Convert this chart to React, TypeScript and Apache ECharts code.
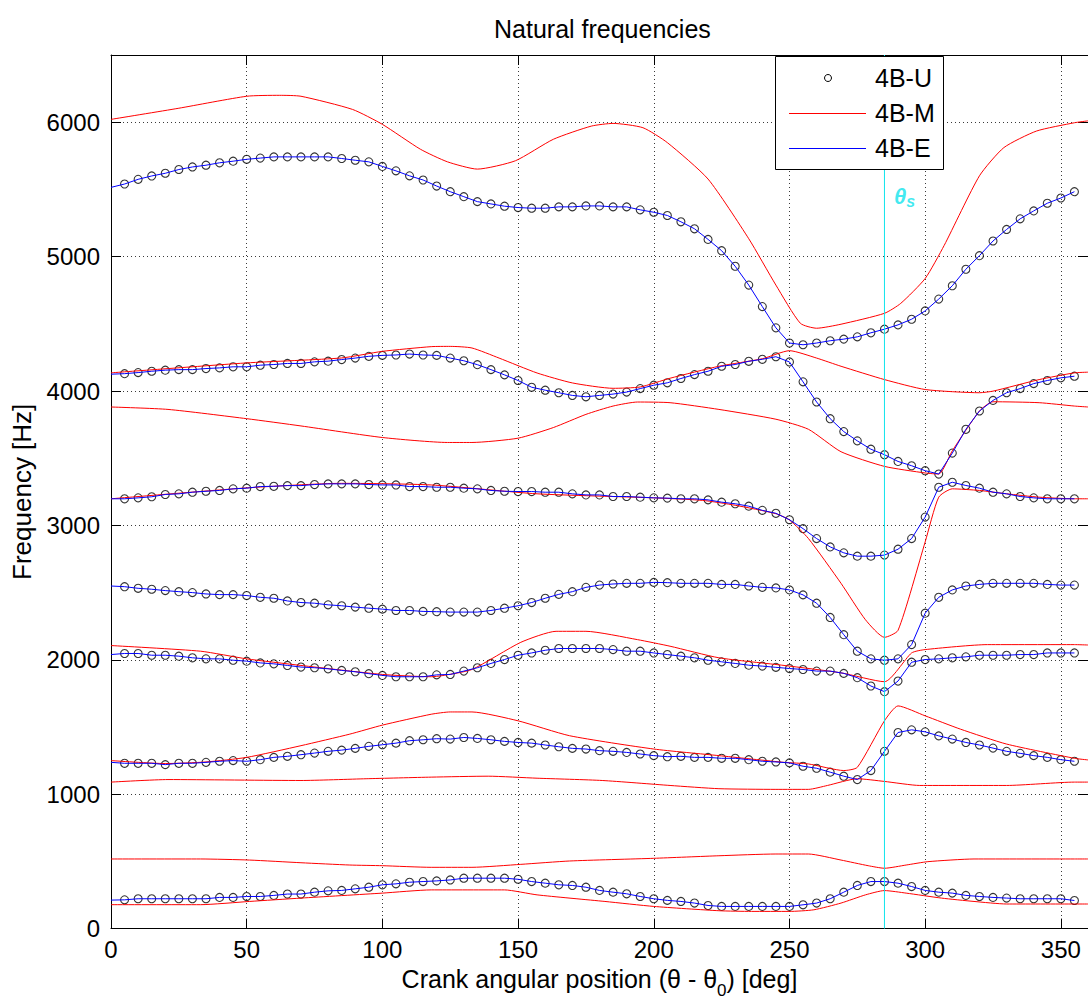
import React, { useEffect, useRef } from "react";
import * as echarts from "echarts";

const FONT = '"Liberation Sans", Arial, Helvetica, sans-serif';
const CYAN = "#10e4ec";
const RED = "#ff0000";
const BLUE = "#0000ff";

const chartTitle = "Natural frequencies";
const xName = "{n|Crank angular position (θ - θ}{s|0}{n|) [deg]}";
const yName = "Frequency [Hz]";
const legendNames = ["4B-U", "4B-M", "4B-E"];
const thetaS = 285;
const thetaSLabelY = 5450;
const yRange = [0, 6500];

// crank angle samples (deg) of the 4B-E / 4B-U computations
const angles = [
  0, 5, 10, 15, 20, 25, 30, 35, 40, 45, 50, 55, 60, 65, 70, 75, 80, 85, 90, 95,
  100, 105, 110, 115, 120, 125, 130, 135, 140, 145, 150, 155, 160, 165, 170, 175,
  180, 185, 190, 195, 200, 205, 210, 215, 220, 225, 230, 235, 240, 245, 250, 255,
  260, 265, 270, 275, 280, 285, 290, 295, 300, 305, 310, 315, 320, 325, 330, 335,
  340, 345, 350, 355,
];

// 4B-E (and 4B-U) natural frequencies, Hz
const mode1E = [
  212, 214, 222, 222, 222, 222, 222, 222, 232, 232, 239, 239, 247, 257, 257, 271, 281, 284, 296, 308,
  326, 333, 345, 350, 355, 362, 375, 375, 375, 375, 367, 350, 338, 326, 321, 308,
  284, 271, 259, 239, 222, 210, 202, 190, 172, 165, 165, 165, 165, 165, 165, 177,
  190, 222, 271, 321, 350, 350, 338, 313, 284, 271, 264, 247, 239, 232, 227, 222,
  222, 222, 222, 209,
];
const mode2E = [
  1237, 1230, 1230, 1230, 1220, 1230, 1230, 1237, 1245, 1250, 1245, 1257, 1274, 1282, 1294, 1306, 1319, 1328, 1341, 1356,
  1368, 1380, 1398, 1405, 1413, 1410, 1422, 1415, 1405, 1393, 1385, 1380, 1366, 1353, 1341, 1336,
  1324, 1319, 1311, 1299, 1287, 1279, 1282, 1274, 1274, 1267, 1267, 1257, 1245, 1240, 1233, 1208,
  1193, 1164, 1134, 1109, 1176, 1319, 1459, 1479, 1464, 1434, 1410, 1385, 1366, 1343, 1319, 1304,
  1287, 1274, 1257, 1245,
];
const mode3E = [
  2039, 2047, 2047, 2034, 2034, 2027, 2015, 2007, 2007, 1997, 1990, 1977, 1970, 1958, 1946, 1941, 1933, 1921, 1911, 1897,
  1884, 1874, 1874, 1874, 1888, 1891, 1916, 1941, 1973, 2002, 2034, 2051, 2071, 2084, 2084, 2084,
  2084, 2076, 2064, 2064, 2051, 2039, 2027, 2015, 1997, 1985, 1973, 1960, 1953, 1944, 1935, 1928,
  1916, 1916, 1899, 1867, 1805, 1763, 1842, 1982, 2002, 2007, 2015, 2022, 2034, 2034, 2034, 2039,
  2039, 2051, 2051, 2051,
];
const mode4E = [
  2549, 2544, 2532, 2525, 2515, 2507, 2500, 2490, 2485, 2485, 2478, 2465, 2458, 2438, 2426, 2421, 2409, 2402, 2392, 2384,
  2377, 2367, 2367, 2360, 2358, 2355, 2355, 2355, 2367, 2384, 2402, 2426, 2458, 2487, 2507, 2539,
  2556, 2564, 2569, 2569, 2576, 2574, 2569, 2569, 2569, 2561, 2561, 2549, 2539, 2535, 2520, 2483,
  2421, 2315, 2187, 2064, 2007, 1997, 2007, 2113, 2347, 2465, 2520, 2549, 2561, 2569, 2569, 2569,
  2569, 2561, 2556, 2556,
];
const mode5E = [
  3198, 3198, 3205, 3213, 3230, 3235, 3247, 3254, 3260, 3272, 3277, 3289, 3291, 3296, 3296, 3304, 3309, 3309, 3309, 3304,
  3301, 3301, 3289, 3289, 3284, 3284, 3277, 3272, 3260, 3254, 3252, 3252, 3247, 3247, 3235, 3227,
  3227, 3215, 3215, 3210, 3205, 3203, 3198, 3198, 3190, 3173, 3161, 3143, 3112, 3090, 3042, 2976,
  2902, 2840, 2796, 2771, 2771, 2779, 2823, 2902, 3062, 3284, 3321, 3297, 3277, 3247, 3235, 3215,
  3205, 3198, 3198, 3198,
];
const mode6E = [
  4125, 4129, 4137, 4147, 4155, 4159, 4159, 4167, 4172, 4180, 4180, 4192, 4197, 4205, 4205, 4217, 4222, 4234, 4245, 4258,
  4265, 4268, 4275, 4268, 4265, 4245, 4225, 4196, 4159, 4120, 4078, 4028, 4006, 3987, 3967, 3957,
  3967, 3977, 3992, 4018, 4043, 4061, 4093, 4122, 4147, 4184, 4197, 4221, 4236, 4255, 4216, 4068,
  3918, 3794, 3698, 3629, 3567, 3526, 3476, 3444, 3407, 3382, 3538, 3715, 3851, 3930, 3987, 4018,
  4055, 4078, 4098, 4110,
];
const mode7E = [
  5515, 5540, 5575, 5600, 5620, 5648, 5667, 5680, 5698, 5710, 5724, 5733, 5742, 5742, 5742, 5742, 5742, 5730, 5717, 5705,
  5671, 5638, 5601, 5570, 5525, 5483, 5446, 5409, 5392, 5375, 5365, 5360, 5360, 5370, 5370, 5377,
  5377, 5370, 5370, 5348, 5330, 5306, 5259, 5207, 5128, 5044, 4928, 4788, 4628, 4470, 4357, 4344,
  4357, 4374, 4386, 4403, 4433, 4460, 4492, 4534, 4596, 4684, 4783, 4906, 5007, 5116, 5202, 5281,
  5340, 5397, 5436, 5483,
];

// 4B-M natural frequencies, [angle deg, Hz]
const mode1M = [
  [0, 178], [33, 178], [51, 202], [70, 227], [100, 264], [118, 288], [145, 288], [157, 251],
  [182, 202], [200, 165], [224, 133], [236, 128], [250, 128], [259, 140], [269, 190], [278, 251],
  [285, 283], [293, 264], [306, 227], [318, 202], [330, 183], [355, 183], [360, 183],
];
const mode2M = [
  [0, 518], [33, 518], [51, 510], [70, 490], [88, 473], [100, 468], [118, 456], [133, 456],
  [151, 478], [169, 503], [200, 523], [224, 542], [245, 555], [257, 555], [269, 510], [279, 468],
  [285, 449], [293, 473], [301, 498], [318, 518], [355, 518], [360, 518],
];
const mode3M = [
  [0, 1090], [21, 1109], [70, 1102], [94, 1115], [118, 1127], [139, 1134], [157, 1119], [181, 1102],
  [206, 1065], [224, 1041], [245, 1036], [257, 1036], [264, 1065], [275, 1115], [285, 1095], [298, 1065],
  [330, 1065], [355, 1090], [360, 1090],
];
const mode4M = [
  [0, 1250], [20, 1228], [35, 1240], [50, 1274], [70, 1361], [88, 1447], [100, 1514], [118, 1595],
  [125, 1612], [133, 1612], [150, 1546], [169, 1435], [200, 1336], [224, 1287], [248, 1237], [257, 1225],
  [270, 1176], [275, 1200], [285, 1546], [290, 1657], [300, 1583], [313, 1484], [330, 1373], [355, 1267],
  [360, 1255],
];
const mode5M = [
  [0, 2106], [33, 2064], [50, 2007], [70, 1958], [100, 1891], [118, 1874], [122, 1882], [133, 1928],
  [151, 2130], [164, 2212], [175, 2212], [194, 2150], [206, 2101], [224, 2015], [248, 1958], [269, 1903],
  [285, 1837], [295, 2051], [300, 2076], [323, 2113], [355, 2113], [360, 2110],
];
const mode6M = [
  [0, 3198], [50, 3279], [85, 3313], [118, 3301], [157, 3235], [200, 3205], [218, 3186], [230, 3150],
  [245, 3087], [250, 3040], [257, 2902], [269, 2569], [278, 2298], [285, 2167], [290, 2219], [300, 2877],
  [305, 3210], [310, 3272], [320, 3260], [330, 3235], [342, 3210], [355, 3198], [360, 3198],
];
const mode7M = [
  [0, 3881], [21, 3863], [50, 3794], [70, 3740], [100, 3654], [124, 3617], [133, 3617], [150, 3649],
  [163, 3728], [175, 3826], [185, 3888], [194, 3918], [206, 3913], [224, 3863], [245, 3790], [257, 3715],
  [269, 3548], [285, 3439], [300, 3390], [305, 3382], [310, 3555], [320, 3851], [325, 3920], [342, 3913],
  [355, 3888], [360, 3881],
];
const mode8M = [
  [0, 4135], [50, 4209], [85, 4246], [100, 4295], [118, 4330], [125, 4332], [133, 4320], [143, 4245],
  [157, 4134], [170, 4060], [185, 4020], [195, 4030], [206, 4095], [224, 4184], [240, 4240], [250, 4300],
  [260, 4245], [269, 4184], [285, 4085], [300, 4011], [320, 3987], [325, 3999], [342, 4085], [355, 4135],
  [360, 4140],
];
const mode9M = [
  [0, 6021], [25, 6104], [50, 6193], [62, 6200], [70, 6193], [89, 6095], [100, 5984], [114, 5799],
  [124, 5705], [135, 5651], [149, 5713], [163, 5873], [177, 5971], [185, 5991], [196, 5959], [205, 5848],
  [220, 5577], [235, 5133], [245, 4788], [254, 4504], [260, 4467], [269, 4497], [285, 4578], [291, 4652],
  [300, 4837], [307, 5083], [320, 5601], [329, 5811], [341, 5934], [355, 5996], [360, 6010],
];

const eModes = [mode1E, mode2E, mode3E, mode4E, mode5E, mode6E, mode7E];
const mModes = [mode1M, mode2M, mode3M, mode4M, mode5M, mode6M, mode7M, mode8M, mode9M];

function buildOption() {
  const uSeries = eModes.map((vals) => ({
    type: "scatter",
    name: legendNames[0],
    data: angles.slice(1).map((a, i) => [a, vals[i + 1]]),
    symbol: "circle",
    symbolSize: 8,
    itemStyle: { color: "rgba(0,0,0,0)", borderColor: "#000", borderWidth: 1.1 },
    silent: true,
    z: 2,
  }));
  const mSeries = mModes.map((pts) => ({
    type: "line",
    name: legendNames[1],
    data: pts,
    symbol: "none",
    showSymbol: false,
    smooth: 0.2,
    lineStyle: { color: RED, width: 1 },
    itemStyle: { color: RED },
    silent: true,
    z: 3,
  }));
  const eSeries = eModes.map((vals) => ({
    type: "line",
    name: legendNames[2],
    data: angles.map((a, i) => [a, vals[i]]),
    symbol: "none",
    showSymbol: false,
    lineStyle: { color: BLUE, width: 1 },
    itemStyle: { color: BLUE },
    silent: true,
    z: 4,
  }));
  const thetaLine = {
    type: "line",
    name: "thetaS-line",
    data: [[thetaS, yRange[0]], [thetaS, yRange[1]]],
    symbol: "none",
    showSymbol: false,
    lineStyle: { color: CYAN, width: 1, type: "solid" },
    itemStyle: { color: CYAN },
    silent: true,
    z: 5,
  };
  const thetaLabel = {
    type: "scatter",
    name: "thetaS",
    data: [[thetaS, thetaSLabelY]],
    symbolSize: 1,
    itemStyle: { color: "rgba(0,0,0,0)" },
    silent: true,
    z: 5,
    label: {
      show: true,
      position: "right",
      distance: 9,
      formatter: "{a|θ}{b|s}",
      rich: {
        a: { fontSize: 22, fontWeight: "bold", fontStyle: "italic", color: CYAN, fontFamily: FONT, lineHeight: 26 },
        b: { fontSize: 16, fontWeight: "bold", fontStyle: "italic", color: CYAN, fontFamily: FONT, lineHeight: 16, verticalAlign: "bottom" },
      },
    },
  };

  const axisLine = { show: true, onZero: false, lineStyle: { color: "#000", width: 1 } };
  const axisTick = { show: true, inside: true, length: 10, lineStyle: { color: "#000", width: 1 } };
  const splitLine = { show: true, lineStyle: { color: "#3a3a3a", width: 1, type: [1, 3] } };
  const plain = (v: number) => String(v);

  const legendRowY = [78, 113, 148];

  return {
    animation: false,
    backgroundColor: "#fff",
    textStyle: { fontFamily: FONT },
    title: {
      text: chartTitle,
      left: 494,
      top: 16,
      padding: 0,
      textStyle: { fontSize: 25, fontWeight: "normal", color: "#000", fontFamily: FONT },
    },
    grid: { left: 111, right: -7, top: 55, bottom: 70, containLabel: false },
    xAxis: [
      {
        type: "value",
        min: 0,
        max: 360,
        interval: 50,
        position: "bottom",
        axisLine,
        axisTick,
        axisLabel: { fontSize: 24, color: "#000", margin: 9, fontFamily: FONT, showMaxLabel: false, formatter: plain },
        splitLine,
        name: xName,
        nameLocation: "middle",
        nameGap: 29,
        nameTextStyle: {
          fontSize: 25,
          color: "#000",
          fontFamily: FONT,
          rich: {
            n: { fontSize: 25, lineHeight: 40, color: "#000", fontFamily: FONT },
            s: { fontSize: 17, lineHeight: 17, verticalAlign: "bottom", color: "#000", fontFamily: FONT },
          },
        },
      },
      {
        type: "value",
        min: 0,
        max: 360,
        interval: 50,
        position: "top",
        axisLine,
        axisTick,
        axisLabel: { show: false },
        splitLine: { show: false },
      },
    ],
    yAxis: [
      {
        type: "value",
        min: yRange[0],
        max: yRange[1],
        interval: 1000,
        position: "left",
        axisLine,
        axisTick,
        axisLabel: { fontSize: 24, color: "#000", margin: 11, fontFamily: FONT, showMaxLabel: false, formatter: plain },
        splitLine,
        name: yName,
        nameLocation: "middle",
        nameGap: 76,
        nameRotate: 90,
        nameTextStyle: { fontSize: 26, color: "#000", fontFamily: FONT },
      },
      {
        type: "value",
        min: yRange[0],
        max: yRange[1],
        interval: 1000,
        position: "right",
        axisLine,
        axisTick,
        axisLabel: { show: false },
        splitLine: { show: false },
      },
    ],
    graphic: [
      {
        type: "rect",
        z: 100,
        shape: { x: 775.5, y: 56.5, width: 168, height: 113 },
        style: { fill: "#fff", stroke: "#000", lineWidth: 1 },
      },
      {
        type: "circle",
        z: 101,
        shape: { cx: 828, cy: legendRowY[0], r: 3.5 },
        style: { fill: "rgba(0,0,0,0)", stroke: "#000", lineWidth: 1 },
      },
      {
        type: "line",
        z: 101,
        shape: { x1: 789, y1: legendRowY[1] + 0.5, x2: 866, y2: legendRowY[1] + 0.5 },
        style: { stroke: RED, lineWidth: 1 },
      },
      {
        type: "line",
        z: 101,
        shape: { x1: 789, y1: legendRowY[2] + 0.5, x2: 866, y2: legendRowY[2] + 0.5 },
        style: { stroke: BLUE, lineWidth: 1 },
      },
      ...legendNames.map((nm, i) => ({
        type: "text",
        z: 101,
        x: 875,
        y: legendRowY[i],
        style: {
          text: nm,
          fontSize: 25,
          fontFamily: FONT,
          fill: "#000",
          verticalAlign: "middle",
          align: "left",
        },
      })),
    ],
    series: [...uSeries, ...mSeries, ...eSeries, thetaLine, thetaLabel],
  };
}

export default function App() {
  const ref = useRef<HTMLDivElement>(null);
  useEffect(() => {
    if (!ref.current) return;
    const chart = echarts.init(ref.current, undefined, { renderer: "svg" });
    chart.setOption(buildOption() as any);
    return () => {
      chart.dispose();
    };
  }, []);
  return (
    <div
      ref={ref}
      style={{ position: "absolute", left: 0, top: 0, width: 1088, height: 1004, background: "#fff" }}
    />
  );
}
